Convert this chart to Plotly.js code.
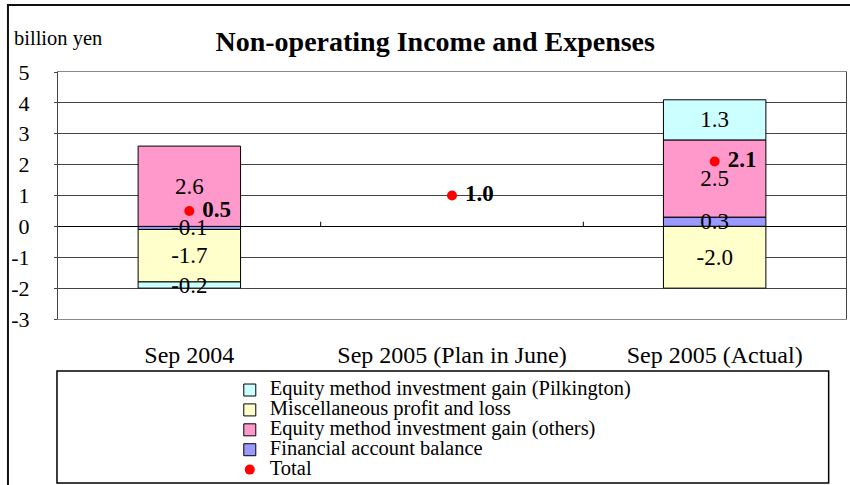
<!DOCTYPE html>
<html>
<head>
<meta charset="utf-8">
<script src="https://cdn.plot.ly/plotly-3.0.1.min.js"></script>
<style>html,body{margin:0;padding:0;background:#fff;}#chart{width:850px;height:485px;}</style>
</head>
<body>
<div id="chart"></div>
<script>
var categories = ["Sep 2004", "Sep 2005 (Plan in June)", "Sep 2005 (Actual)"];
var financialBalance = [-0.1, null, 0.3];
var equityOthers = [2.6, null, 2.5];
var miscProfitLoss = [-1.7, null, -2.0];
var equityPilkington = [-0.2, null, 1.3];
var totals = [0.5, 1.0, 2.1];
var yTickValues = [-3, -2, -1, 0, 1, 2, 3, 4, 5];

var SERIF = "Liberation Serif, Times New Roman, serif";

function leg(name) { return '<span style="font-size:20.5px">' + name + '</span>'; }

var series = [
  {name: 'Financial account balance', values: financialBalance, color: '#9999FF', rank: 4},
  {name: 'Equity method investment gain (others)', values: equityOthers, color: '#FF99CC', rank: 3},
  {name: 'Miscellaneous profit and loss', values: miscProfitLoss, color: '#FFFFCC', rank: 2},
  {name: 'Equity method investment gain (Pilkington)', values: equityPilkington, color: '#CCFFFF', rank: 1}
];

var data = [];
// coloured bars (lower layer)
series.forEach(function (s) {
  data.push({
    type: 'bar', x: categories, y: s.values, name: leg(s.name),
    marker: {color: s.color, line: {color: '#000', width: 1}},
    width: 0.39, hoverinfo: 'skip', legendrank: s.rank,
    xaxis: 'x', yaxis: 'y'
  });
});
// identical transparent stacks on an overlaid axis pair carry the value labels on top
series.forEach(function (s) {
  data.push({
    type: 'bar', x: categories, y: s.values, showlegend: false,
    marker: {color: 'rgba(0,0,0,0)', line: {width: 0}},
    width: 0.39, hoverinfo: 'skip',
    text: s.values.map(function (v) { return v === null ? '' : v.toFixed(1); }),
    textposition: 'inside', insidetextanchor: 'middle',
    textfont: {family: SERIF, size: 23, color: '#000'},
    cliponaxis: false, xaxis: 'x2', yaxis: 'y2'
  });
});
data.push({
  type: 'scatter', mode: 'markers+text', x: categories, y: totals, name: leg('Total'),
  marker: {color: '#FF0000', size: 10},
  text: totals.map(function (v) { return ' <b>' + v.toFixed(1) + '</b>'; }),
  textposition: 'middle right',
  textfont: {family: SERIF, size: 23, color: '#000'},
  hoverinfo: 'skip', cliponaxis: false, legendrank: 5,
  xaxis: 'x2', yaxis: 'y2'
});

var layout = {
  width: 850, height: 485,
  margin: {l: 58, r: 4, t: 72, b: 166, autoexpand: false},
  paper_bgcolor: '#fff', plot_bgcolor: '#fff',
  font: {family: SERIF, size: 19, color: '#000'},
  barmode: 'relative',
  showlegend: true,
  uniformtext: {mode: 'show', minsize: 23},
  title: {
    text: '<b>Non-operating Income and Expenses</b>',
    font: {family: SERIF, size: 28, color: '#000'},
    x: 0.512, xref: 'container', xanchor: 'center',
    y: 0.915, yref: 'container', yanchor: 'middle'
  },
  xaxis: {
    type: 'category', showgrid: false, zeroline: false,
    showline: true, linecolor: '#888', linewidth: 1, mirror: true,
    ticks: '', ticklabelstandoff: 14,
    tickfont: {family: SERIF, size: 24, color: '#000'}
  },
  yaxis: {
    range: [-3, 5], tickvals: yTickValues, ticktext: yTickValues.map(String),
    showgrid: true, gridcolor: '#444', gridwidth: 1,
    zeroline: true, zerolinecolor: '#000', zerolinewidth: 1,
    showline: true, linecolor: '#444', linewidth: 1, mirror: true,
    ticks: 'outside', ticklen: 3, tickcolor: '#444',
    ticklabelstandoff: 20,
    tickfont: {family: SERIF, size: 22, color: '#000'}
  },
  xaxis2: {type: 'category', overlaying: 'x', matches: 'x', visible: false},
  yaxis2: {overlaying: 'y', range: [-3, 5], visible: false},
  legend: {
    x: 0.218, xanchor: 'left', y: -0.227, yanchor: 'top',
    bgcolor: 'rgba(0,0,0,0)', borderwidth: 0,
    font: {family: SERIF, size: 13, color: '#000'},
    tracegroupgap: 0, itemclick: false, itemdoubleclick: false
  },
  annotations: [{
    text: 'billion yen', xref: 'paper', yref: 'paper',
    x: -0.0584, y: 1.136, xanchor: 'left', yanchor: 'middle',
    showarrow: false, font: {family: SERIF, size: 20.5, color: '#000'}
  }],
  shapes: [
    {type: 'rect', xref: 'paper', yref: 'paper', x0: -0.0013, x1: 0.978, y0: -0.2105, y1: -0.664,
     line: {color: '#000', width: 1.5}, fillcolor: 'rgba(0,0,0,0)'},
    {type: 'rect', xref: 'paper', yref: 'paper', x0: -0.0635, x1: 1.01, y0: 1.271, y1: -0.72,
     line: {color: '#111', width: 2}, fillcolor: 'rgba(0,0,0,0)'},
    {type: 'line', xref: 'x', yref: 'y', x0: 0.5, x1: 0.5, y0: 0, y1: 0.15, line: {color: '#000', width: 1}},
    {type: 'line', xref: 'x', yref: 'y', x0: 1.5, x1: 1.5, y0: 0, y1: 0.15, line: {color: '#000', width: 1}}
  ]
};

Plotly.newPlot('chart', data, layout, {displayModeBar: false, staticPlot: true});
</script>
</body>
</html>
